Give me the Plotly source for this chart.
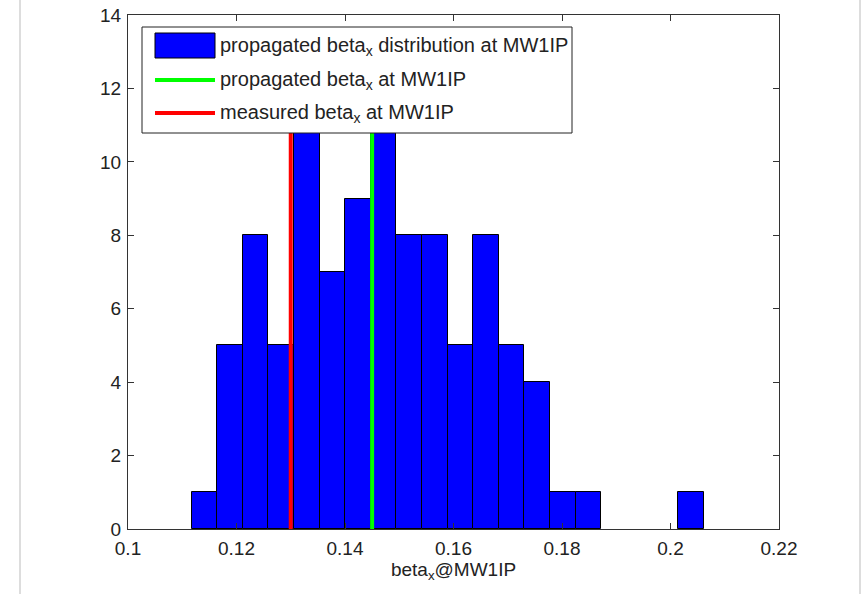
import plotly.graph_objects as go

# ---- data ----
bin_start = 0.11172          # left edge of first histogram bin
bin_width = 0.004719         # width of each bin (20 bins)
counts = [1, 5, 8, 5, 12, 7, 9, 12, 8, 8, 5, 8, 5, 4, 1, 1, 0, 0, 0, 1]
propagated_beta = 0.145      # green line
measured_beta = 0.13         # red line
y_top = 14

x_ticks = [0.1, 0.12, 0.14, 0.16, 0.18, 0.2, 0.22]
x_tick_labels = ["0.1", "0.12", "0.14", "0.16", "0.18", "0.2", "0.22"]
y_ticks = [0, 2, 4, 6, 8, 10, 12, 14]

legend_labels = [
    "propagated beta<sub>x</sub> distribution at MW1IP",
    "propagated beta<sub>x</sub> at MW1IP",
    "measured beta<sub>x</sub> at MW1IP",
]
BLUE, GREEN, RED = "#0000ff", "#00ff00", "#ff0000"

centers = [bin_start + (i + 0.5) * bin_width for i in range(len(counts))]
bar_y = [c if c > 0 else None for c in counts]
line_top = max(counts)

W, H = 862, 594
ml, mr, mt, mb = 128, 83, 15, 65
pw, ph = W - ml - mr, H - mt - mb


def px(x):
    return (x - ml) / pw


def py(y):
    return 1 - (y - mt) / ph


FONT = "Liberation Sans, Arial, Helvetica, sans-serif"
TXT = "#222222"

fig = go.Figure()
fig.add_trace(go.Bar(
    x=centers, y=bar_y, width=bin_width,
    marker=dict(color=BLUE, line=dict(color="#000000", width=1)),
    name=legend_labels[0],
))
fig.add_trace(go.Scatter(
    x=[propagated_beta, propagated_beta], y=[0, line_top], mode="lines",
    line=dict(color=GREEN, width=4), name=legend_labels[1],
))
fig.add_trace(go.Scatter(
    x=[measured_beta, measured_beta], y=[0, line_top], mode="lines",
    line=dict(color=RED, width=4), name=legend_labels[2],
))

axis_common = dict(
    showgrid=False, zeroline=False, showline=True, mirror="ticks",
    linecolor="#333333", linewidth=1, ticks="inside", ticklen=6,
    tickcolor="#333333", tickfont=dict(family=FONT, size=19, color=TXT),
    automargin=False,
)

# legend drawn as a boxed key (MATLAB style, wide swatches)
shapes = [
    dict(type="line", xref="paper", yref="paper",
         x0=px(20), x1=px(20), y0=py(H), y1=py(0),
         line=dict(color="#bbbbbb", width=1)),
    dict(type="line", xref="paper", yref="paper",
         x0=px(860), x1=px(860), y0=py(H), y1=py(0),
         line=dict(color="#bbbbbb", width=1)),
    dict(type="rect", xref="paper", yref="paper", layer="above",
         x0=px(142), x1=px(572), y0=py(133), y1=py(27),
         fillcolor="white", line=dict(color="#222222", width=1)),
    dict(type="rect", xref="paper", yref="paper", layer="above",
         x0=px(155), x1=px(215), y0=py(58), y1=py(33),
         fillcolor=BLUE, line=dict(color="#000000", width=1)),
    dict(type="line", xref="paper", yref="paper", layer="above",
         x0=px(155), x1=px(215), y0=py(80), y1=py(80),
         line=dict(color=GREEN, width=4)),
    dict(type="line", xref="paper", yref="paper", layer="above",
         x0=px(155), x1=px(215), y0=py(113), y1=py(113),
         line=dict(color=RED, width=4)),
]
row_y = [46, 80, 113]
annotations = [
    dict(text=lab, xref="paper", yref="paper", x=px(218), y=py(yy),
         xanchor="left", yanchor="middle", showarrow=False,
         font=dict(family=FONT, size=20, color=TXT))
    for lab, yy in zip(legend_labels, row_y)
]

fig.update_layout(
    width=W, height=H,
    margin=dict(l=ml, r=mr, t=mt, b=mb, autoexpand=False),
    paper_bgcolor="white", plot_bgcolor="white",
    bargap=0, showlegend=False,
    font=dict(family=FONT, size=19, color=TXT),
    xaxis=dict(range=[0.1, 0.22], tickvals=x_ticks, ticktext=x_tick_labels,
               title=dict(text="beta<sub>x</sub>@MW1IP",
                          font=dict(family=FONT, size=19, color=TXT),
                          standoff=4),
               ticklabelstandoff=2, **axis_common),
    yaxis=dict(range=[0, y_top], tickvals=y_ticks, ticklabelstandoff=2,
               **axis_common),
    shapes=shapes,
    annotations=annotations,
)

fig.write_html("out.html")
